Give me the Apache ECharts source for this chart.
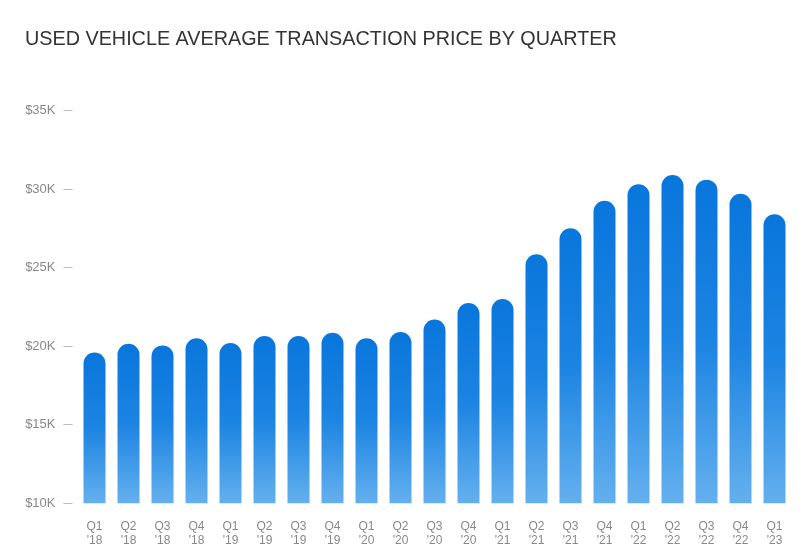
<!DOCTYPE html>
<html>
<head>
<meta charset="utf-8">
<script src="https://cdn.jsdelivr.net/npm/echarts@6/dist/echarts.min.js"></script>
<style>
html,body{margin:0;padding:0;background:#fff;}
#chart{width:800px;height:554px;}
</style>
</head>
<body>
<div id="chart"></div>
<script>
const categories = ["Q1\n'18","Q2\n'18","Q3\n'18","Q4\n'18","Q1\n'19","Q2\n'19","Q3\n'19","Q4\n'19","Q1\n'20","Q2\n'20","Q3\n'20","Q4\n'20","Q1\n'21","Q2\n'21","Q3\n'21","Q4\n'21","Q1\n'22","Q2\n'22","Q3\n'22","Q4\n'22","Q1\n'23"];
const prices = [19600,20150,20050,20500,20200,20650,20650,20850,20500,20900,21700,22750,23000,25850,27500,29250,30300,30900,30600,29700,28400];
const yTicks = [10000,15000,20000,25000,30000,35000];

const chart = echarts.init(document.getElementById('chart'));
chart.setOption({
  backgroundColor: '#fff',
  animation: false,
  title: {
    text: 'USED VEHICLE AVERAGE TRANSACTION PRICE BY QUARTER',
    left: 20, top: 25,
    textStyle: {fontFamily: 'Liberation Sans, Arial', fontSize: 19.8, fontWeight: 'normal', color: '#333'}
  },
  grid: {left: 77.5, right: 8.5, top: 110.5, bottom: 50.7},
  xAxis: {
    type: 'category',
    data: categories,
    axisLine: {show: false},
    axisTick: {show: false},
    axisLabel: {color: '#888', fontSize: 12, lineHeight: 14, margin: 16, fontFamily: 'Liberation Sans, Arial', interval: 0}
  },
  yAxis: {
    type: 'value',
    min: yTicks[0], max: yTicks[yTicks.length-1], interval: 5000,
    offset: 5,
    splitLine: {show: false},
    axisLine: {show: false},
    axisTick: {show: true, length: 9, lineStyle: {color: '#bbb', width: 1}},
    axisLabel: {color: '#888', fontSize: 13, margin: 17, fontFamily: 'Liberation Sans, Arial',
      formatter: v => '$' + (v/1000) + 'K'}
  },
  series: [{
    type: 'bar',
    data: prices,
    barWidth: 22,
    itemStyle: {
      borderRadius: [11,11,0,0],
      color: new echarts.graphic.LinearGradient(0,0,0,1,[
        {offset: 0, color: '#0976dc'},
        {offset: 0.5, color: '#1c84e2'},
        {offset: 1, color: '#64b0ee'}
      ])
    }
  }]
});
</script>
</body>
</html>
